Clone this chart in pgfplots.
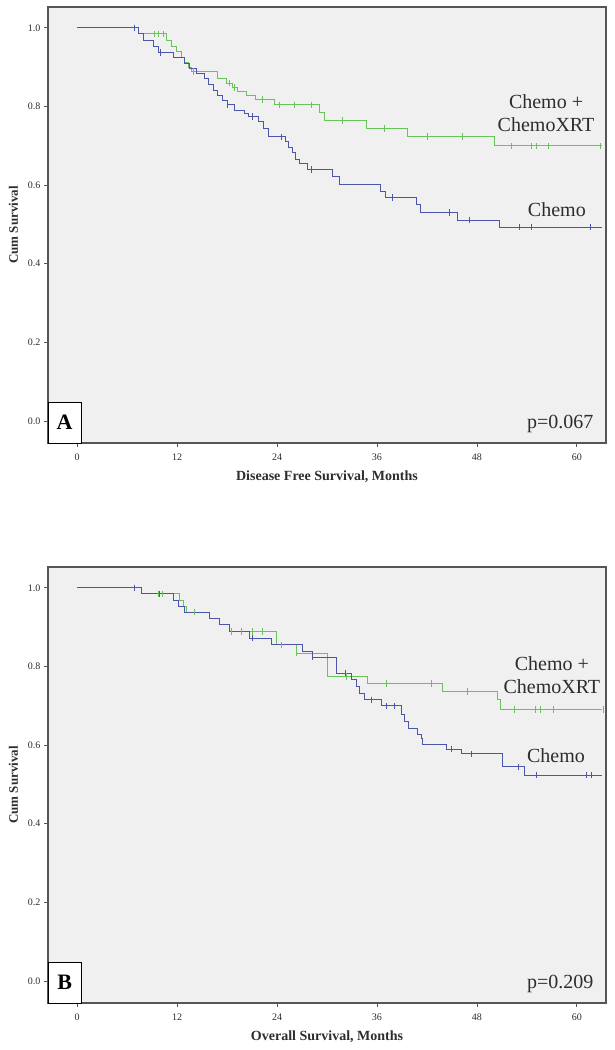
\documentclass[border=0pt]{standalone}
\usepackage{pgfplots}
\pgfplotsset{compat=1.18}
\usepackage{fontspec}
\setmainfont{Liberation Serif}

\definecolor{kmgreen}{RGB}{105,195,90}
\definecolor{kmblue}{RGB}{75,85,170}
\definecolor{panelbg}{RGB}{240,240,240}
\definecolor{framegray}{RGB}{85,85,85}
\definecolor{txtgray}{RGB}{45,45,45}

\pgfplotsset{
  kmaxis/.style={
    scale only axis, width=558pt, height=436pt,
    xmin=-3.5, xmax=63.5, ymin=-0.056, ymax=1.053,
    xtick={0,12,24,36,48,60}, ytick={0,0.2,0.4,0.6,0.8,1},
    yticklabel style={/pgf/number format/.cd, fixed, fixed zerofill, precision=1},
    xticklabel style={yshift=-3pt},
    /pgf/number format/assume math mode=true,
    tick align=outside, xtick pos=left, ytick pos=left,
    major tick length=4pt,
    tick style={framegray, line width=0.8pt},
    axis line style={framegray, line width=1.2pt},
    axis background/.style={fill=panelbg},
    tick label style={font=\fontsize{10}{12}\selectfont, text=txtgray},
    xlabel style={font=\bfseries\fontsize{14}{16}\selectfont, text=txtgray, yshift=-4pt},
    ylabel style={font=\bfseries\fontsize{13}{15}\selectfont, text=txtgray, yshift=3pt},
    ylabel={Cum Survival},
    clip=false,
  },
  surv/.style={line width=0.8pt, const plot},
  cens/.style={only marks, mark=|, mark size=3.2pt, mark options={line width=0.8pt}},
}

\begin{document}
\begin{tikzpicture}
\useasboundingbox (0,0) rectangle (615pt,-1050pt);

% ---------- panel A ----------
\begin{axis}[kmaxis, at={(48pt,-7pt)}, anchor=north west,
  xlabel={Disease Free Survival, Months}]
  % Chemo + ChemoXRT
  \addplot[kmgreen, surv] coordinates {
    (0,1.0) (7.3,0.985) (10.7,0.968) (11.3,0.953) (11.9,0.940) (12.5,0.925)
    (12.9,0.912) (13.3,0.900) (13.7,0.889) (16.9,0.872) (17.9,0.859)
    (18.7,0.848) (19.3,0.838) (20.3,0.827) (21.4,0.818) (23.7,0.804)
    (29.1,0.785) (29.7,0.764) (34.7,0.744) (39.6,0.724) (50.1,0.700) (63,0.700)};
  \addplot[kmgreen, cens] coordinates {
    (9.3,0.985) (9.7,0.985) (10.3,0.985) (13.9,0.889) (18.3,0.859) (18.9,0.848)
    (22.3,0.818) (24.3,0.804) (26.1,0.804) (28.1,0.804) (31.9,0.764)
    (36.9,0.744) (42.1,0.724) (46.3,0.724) (52.1,0.700) (54.6,0.700)
    (55.2,0.700) (56.6,0.700) (62.8,0.700)};
  % Chemo
  \addplot[kmblue, surv] coordinates {
    (0,1.0) (7.3,0.986) (7.9,0.968) (9.1,0.954) (9.7,0.937) (11.5,0.925)
    (12.9,0.910) (13.5,0.898) (14.3,0.885) (15.3,0.872) (15.7,0.855)
    (16.3,0.840) (16.9,0.827) (17.5,0.815) (18.1,0.804) (18.9,0.791)
    (20.1,0.783) (20.6,0.774) (21.8,0.762) (22.4,0.745) (23.0,0.723)
    (25.0,0.711) (25.4,0.697) (25.8,0.682) (26.2,0.666) (26.7,0.656)
    (27.7,0.640) (30.7,0.622) (31.5,0.603) (36.4,0.584) (37.0,0.568)
    (40.7,0.550) (41.2,0.530) (45.7,0.511) (50.7,0.493) (63,0.493)};
  \addplot[kmblue, cens] coordinates {
    (6.9,1.0) (10.0,0.937) (18.1,0.804) (21.1,0.774) (24.5,0.723)
    (28.1,0.640) (37.9,0.568) (44.7,0.530) (47.1,0.511) (53.1,0.493)
    (54.6,0.493) (61.6,0.493)};
  \node[font=\fontsize{20}{23}\selectfont, align=center, text=txtgray]
    at (axis cs:56.3,0.783) {Chemo +\\ChemoXRT};
  \node[font=\fontsize{20}{23}\selectfont, text=txtgray]
    at (axis cs:57.6,0.537) {Chemo};
  \node[font=\fontsize{20}{23}\selectfont, text=txtgray, anchor=east]
    at (axis cs:62.4,-0.008) {p=0.067};
  \draw[black, line width=0.9pt, fill=white]
    (axis cs:-3.5,-0.056) rectangle (axis cs:0.5,0.048);
  \node[font=\bfseries\fontsize{22}{24}\selectfont]
    at (axis cs:-1.5,-0.004) {A};
\end{axis}

% ---------- panel B ----------
\begin{axis}[kmaxis, at={(48pt,-567pt)}, anchor=north west,
  xlabel={Overall Survival, Months}]
  % Chemo + ChemoXRT
  \addplot[kmgreen, surv] coordinates {
    (0,1.0) (7.7,0.985) (12.3,0.968) (12.7,0.953) (13.1,0.938) (15.9,0.923)
    (17.1,0.906) (18.3,0.889) (23.9,0.855) (26.3,0.834) (30.1,0.774)
    (34.9,0.757) (43.9,0.736) (50.5,0.715) (50.8,0.691) (63,0.691)};
  \addplot[kmgreen, cens] coordinates {
    (9.7,0.985) (10.2,0.985) (14.1,0.938) (18.5,0.889) (19.7,0.889)
    (21.1,0.889) (22.3,0.889) (24.5,0.855) (26.3,0.834) (32.3,0.774)
    (37.1,0.757) (42.5,0.757) (46.9,0.736) (52.5,0.691) (55.0,0.691)
    (55.6,0.691) (57.2,0.691) (63.2,0.691)};
  % Chemo
  \addplot[kmblue, surv] coordinates {
    (0,1.0) (7.7,0.985) (11.5,0.968) (12.1,0.953) (12.9,0.938) (15.9,0.923)
    (17.1,0.906) (18.3,0.889) (20.7,0.872) (23.3,0.855) (27.1,0.838)
    (28.3,0.824) (31.1,0.783) (32.9,0.766) (33.5,0.749) (33.9,0.732)
    (34.5,0.715) (36.5,0.700) (38.9,0.677) (39.3,0.660) (39.8,0.643)
    (40.9,0.626) (41.3,0.618) (41.5,0.603) (44.3,0.590) (46.1,0.578)
    (51.1,0.545) (53.7,0.524) (63,0.524)};
  \addplot[kmblue, cens] coordinates {
    (6.9,1.0) (9.9,0.985) (21.1,0.872) (28.3,0.824) (32.2,0.783)
    (35.3,0.715) (37.1,0.700) (38.1,0.700) (44.9,0.590) (47.3,0.578)
    (53.0,0.545) (55.1,0.524) (61.2,0.524) (61.8,0.524)};
  \node[font=\fontsize{20}{23}\selectfont, align=center, text=txtgray]
    at (axis cs:57.0,0.779) {Chemo +\\ChemoXRT};
  \node[font=\fontsize{20}{23}\selectfont, text=txtgray]
    at (axis cs:57.5,0.573) {Chemo};
  \node[font=\fontsize{20}{23}\selectfont, text=txtgray, anchor=east]
    at (axis cs:62.4,-0.008) {p=0.209};
  \draw[black, line width=0.9pt, fill=white]
    (axis cs:-3.5,-0.056) rectangle (axis cs:0.5,0.048);
  \node[font=\bfseries\fontsize{22}{24}\selectfont]
    at (axis cs:-1.5,-0.004) {B};
\end{axis}
\end{tikzpicture}
\end{document}
